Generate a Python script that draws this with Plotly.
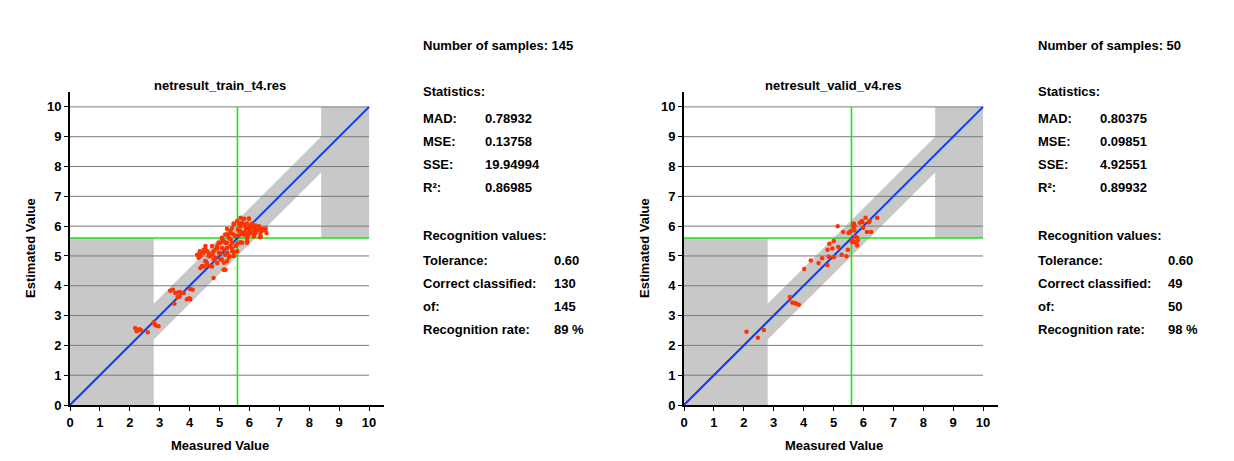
import plotly.graph_objects as go

# ---------------- data ----------------
tick_values = [0, 1, 2, 3, 4, 5, 6, 7, 8, 9, 10]
threshold = 5.6
tolerance = 0.6
band_low = 2.8
band_high = 8.4
value_max = 10

train_measured = [
    2.18, 2.23, 2.32, 2.37, 2.25, 2.60, 2.80, 2.83, 2.90, 2.96,
    3.35, 3.44, 3.52, 3.49, 3.63, 3.60, 3.69, 3.80, 3.99, 4.10, 4.02, 3.66,
    5.70, 5.81, 5.98, 5.59, 5.75, 5.92, 6.09, 6.20, 5.47, 5.42, 5.25, 5.70, 5.87, 6.01, 6.15, 6.26,
    6.37, 6.46, 6.54, 6.57, 6.37, 6.20, 6.03, 5.87, 5.70, 5.61, 5.81, 5.98, 6.15, 6.35, 5.64, 5.92,
    5.47, 5.36, 5.19, 5.08, 5.31, 4.97, 5.14, 5.25, 5.42, 5.59, 5.70, 5.92, 4.92, 5.08, 5.25, 5.42,
    5.59, 5.03, 5.19, 5.34, 5.47, 4.86, 5.08, 5.25, 4.75, 4.92, 5.14, 4.80, 4.25, 4.34, 4.47, 4.53,
    4.36, 4.53, 4.58, 4.49, 4.36, 4.69, 4.64, 4.58, 4.80, 4.75,
    5.48, 5.65, 5.82, 5.98, 5.71, 5.87, 6.04, 6.15, 6.32, 6.43, 6.54, 6.38, 5.37, 5.26, 5.09, 5.03,
    5.20, 5.37, 5.54, 5.71, 5.87, 5.98, 6.09, 6.20, 4.92, 4.86, 5.15, 5.37, 5.54, 5.76, 5.93, 4.76,
    4.98, 5.26, 5.43, 4.36, 4.47, 4.53, 4.30, 4.64, 4.81, 5.03, 5.31, 5.48, 4.53, 4.58, 4.42, 4.70,
    5.15, 5.20, 4.02, 3.91,
]
train_estimated = [
    2.58, 2.47, 2.54, 2.52, 2.50, 2.44, 2.78, 2.70, 2.66, 2.64,
    3.83, 3.87, 3.76, 3.40, 3.78, 3.62, 3.78, 3.76, 3.58, 3.87, 3.55, 3.64,
    6.28, 6.24, 6.26, 6.17, 6.11, 6.09, 6.09, 6.02, 6.09, 5.94, 5.91, 6.00, 5.94, 5.91, 5.91, 5.86,
    5.91, 5.85, 5.91, 5.77, 5.77, 5.77, 5.80, 5.80, 5.83, 5.89, 5.72, 5.72, 5.66, 5.63, 5.68, 5.61,
    5.72, 5.77, 5.72, 5.61, 5.61, 5.44, 5.49, 5.44, 5.44, 5.41, 5.46, 5.44, 5.27, 5.27, 5.27, 5.24,
    5.16, 5.10, 5.04, 4.99, 5.12, 4.93, 4.88, 4.82, 4.65, 4.76, 4.54, 4.26, 5.04, 5.16, 5.21, 5.33,
    4.99, 4.82, 4.76, 4.65, 4.60, 4.99, 5.10, 5.16, 5.16, 5.33,
    6.06, 6.09, 6.25, 6.25, 6.00, 6.06, 6.00, 5.95, 6.00, 5.91, 5.91, 5.64, 5.84, 5.72, 5.56, 5.44,
    5.44, 5.56, 5.67, 5.78, 5.72, 5.78, 5.78, 5.84, 5.33, 5.22, 5.22, 5.33, 5.33, 5.44, 5.50, 5.05,
    5.11, 5.11, 5.16, 5.05, 5.11, 5.22, 4.94, 5.00, 4.88, 4.88, 4.94, 5.00, 4.83, 4.71, 4.66, 4.66,
    4.77, 4.54, 3.89, 3.55,
]

valid_measured = [
    2.09, 2.47, 2.67, 3.54, 3.62, 3.70, 3.76, 3.84, 4.02, 4.24,
    4.50, 4.62, 4.79, 4.80, 4.86, 4.84, 4.96, 5.01, 5.01, 5.16,
    5.14, 5.27, 5.32, 5.43, 5.48, 5.50, 5.57, 5.63, 5.65, 5.68,
    5.70, 5.72, 5.73, 5.76, 5.79, 5.81, 5.62, 5.70, 5.88, 5.95,
    5.99, 6.07, 6.12, 6.18, 6.21, 6.26, 6.46, 5.79, 5.97, 5.68,
]
valid_estimated = [
    2.46, 2.26, 2.52, 3.62, 3.44, 3.42, 3.40, 3.36, 4.56, 4.85,
    4.76, 4.92, 4.70, 5.21, 5.41, 4.97, 5.25, 5.50, 4.96, 5.30,
    6.00, 5.04, 5.80, 4.99, 5.21, 5.77, 5.83, 5.53, 6.05, 5.94,
    5.85, 5.46, 5.64, 5.44, 5.35, 5.53, 5.46, 6.02, 6.11, 6.17,
    5.94, 6.28, 5.80, 6.13, 6.17, 5.80, 6.28, 5.61, 6.13, 6.09,
]

panels = [
    dict(title="netresult_train_t4.res", x=train_measured, y=train_estimated,
         stats=[("MAD:", "0.78932"), ("MSE:", "0.13758"), ("SSE:", "19.94994"), ("R²:", "0.86985")],
         recog=[("Tolerance:", "0.60"), ("Correct classified:", "130"), ("of:", "145"),
                ("Recognition rate:", "89 %")],
         samples="145"),
    dict(title="netresult_valid_v4.res", x=valid_measured, y=valid_estimated,
         stats=[("MAD:", "0.80375"), ("MSE:", "0.09851"), ("SSE:", "4.92551"), ("R²:", "0.89932")],
         recog=[("Tolerance:", "0.60"), ("Correct classified:", "49"), ("of:", "50"),
                ("Recognition rate:", "98 %")],
         samples="50"),
]

# ---------------- layout geometry (pixels) ----------------
W, H = 1234, 461
plot_left_px = [70, 684]
plot_width_px = 314
plot_bottom_px = 405
plot_top_px = 92
text_left_px = [421, 1036]
value_col_px = [483, 1098]
recog_col_px = [552, 1166]

FONT = "Liberation Sans, Arial, sans-serif"
BOLD = dict(family=FONT, size=13, color="black", weight="bold")
TICKF = dict(family=FONT, size=13, color="black", weight="bold")

fig = go.Figure()

poly_x = [0, band_low, band_low, band_high, band_high, value_max, value_max,
          band_high, band_high, band_low, band_low, 0, 0]
poly_y = [0, 0, band_low - tolerance, band_high - tolerance, threshold, threshold, value_max,
          value_max, band_high + tolerance, band_low + tolerance, threshold, threshold, 0]

annotations = []
for i, p in enumerate(panels):
    xa = "x" if i == 0 else "x2"
    ya = "y" if i == 0 else "y2"
    # gray tolerance region
    fig.add_trace(go.Scatter(x=poly_x, y=poly_y, xaxis=xa, yaxis=ya, mode="lines",
                             fill="toself", fillcolor="#c8c8c8", line=dict(width=0),
                             hoverinfo="skip", showlegend=False))
    # gridlines
    gx, gy = [], []
    for t in tick_values[1:]:
        gx += [0, value_max, None]
        gy += [t, t, None]
    fig.add_trace(go.Scatter(x=gx, y=gy, xaxis=xa, yaxis=ya, mode="lines",
                             line=dict(color="#7a7a7a", width=1), hoverinfo="skip", showlegend=False))
    # green threshold lines
    fig.add_trace(go.Scatter(x=[threshold, threshold, None, 0, value_max],
                             y=[0, value_max, None, threshold, threshold],
                             xaxis=xa, yaxis=ya, mode="lines",
                             line=dict(color="#19e619", width=1.6), hoverinfo="skip", showlegend=False))
    # diagonal
    fig.add_trace(go.Scatter(x=[0, value_max], y=[0, value_max], xaxis=xa, yaxis=ya, mode="lines",
                             line=dict(color="#0a3cf5", width=2), hoverinfo="skip", showlegend=False))
    # points
    fig.add_trace(go.Scatter(x=p["x"], y=p["y"], xaxis=xa, yaxis=ya, mode="markers",
                             marker=dict(color="#ff3300", size=4.5, line=dict(width=0)),
                             showlegend=False))

    cx = (plot_left_px[i] + plot_left_px[i] + plot_width_px * 10 / 10.5) / 2
    annotations.append(dict(text=p["title"], x=cx / W, y=1 - 85 / H, xref="paper", yref="paper",
                            showarrow=False, xanchor="center", yanchor="middle",
                            font=dict(family=FONT, size=13, color="black", weight="bold")))
    annotations.append(dict(text="Measured Value", x=cx / W, y=1 - 445 / H, xref="paper",
                            yref="paper", showarrow=False, xanchor="center", yanchor="middle",
                            font=BOLD))
    annotations.append(dict(text="Estimated Value", x=(plot_left_px[i] - 40) / W, y=1 - 248 / H,
                            xref="paper", yref="paper", showarrow=False, textangle=-90,
                            xanchor="center", yanchor="middle", font=BOLD))

    # text panel
    def txt(s, px, py):
        annotations.append(dict(text=s, x=px / W, y=1 - py / H, xref="paper", yref="paper",
                                showarrow=False, xanchor="left", yanchor="middle", font=BOLD))
    txt("Number of samples: " + p["samples"], text_left_px[i], 45)
    txt("Statistics:", text_left_px[i], 91)
    for j, (lab, val) in enumerate(p["stats"]):
        py = 118 + j * 23
        txt(lab, text_left_px[i], py)
        txt(val, value_col_px[i], py)
    txt("Recognition values:", text_left_px[i], 235)
    for j, (lab, val) in enumerate(p["recog"]):
        py = 260 + j * 23
        txt(lab, text_left_px[i], py)
        txt(val, recog_col_px[i], py)

axis_common = dict(range=[0, 10.5], tickvals=tick_values, showgrid=False, zeroline=False,
                   showline=True, linecolor="black", linewidth=2, ticks="outside", ticklen=4,
                   tickwidth=1, tickcolor="black", tickfont=TICKF, fixedrange=True,
                   automargin=False)
ydom = [(H - plot_bottom_px) / H, (H - plot_top_px) / H]
fig.update_layout(
    template="none",
    width=W, height=H, margin=dict(l=0, r=0, t=0, b=0, pad=0), autosize=False,
    paper_bgcolor="white", plot_bgcolor="white",
    xaxis=dict(domain=[plot_left_px[0] / W, (plot_left_px[0] + plot_width_px) / W], anchor="y",
               **axis_common),
    yaxis=dict(domain=ydom, anchor="x", **axis_common),
    xaxis2=dict(domain=[plot_left_px[1] / W, (plot_left_px[1] + plot_width_px) / W], anchor="y2",
                **axis_common),
    yaxis2=dict(domain=ydom, anchor="x2", **axis_common),
    annotations=annotations,
    showlegend=False,
)

fig.write_html("out.html", config={"displayModeBar": False},
               post_script="document.body.style.margin='0';document.body.style.overflow='hidden';")
